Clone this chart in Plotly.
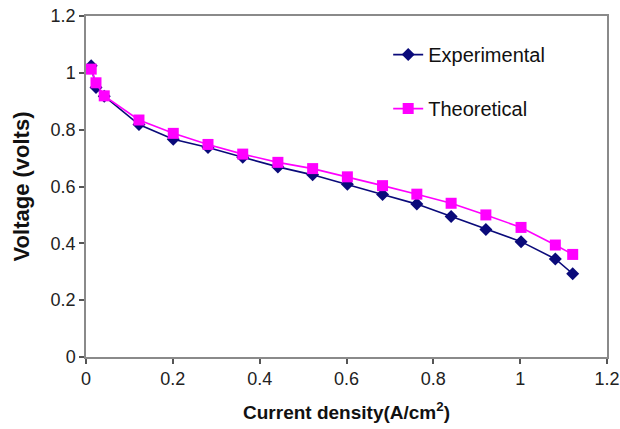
import plotly.graph_objects as go

current_density = [0.012, 0.023, 0.042, 0.122, 0.201, 0.281, 0.361, 0.442, 0.522, 0.602, 0.683, 0.762, 0.841, 0.921, 1.002, 1.081, 1.121]
voltage_experimental = [1.025, 0.948, 0.918, 0.818, 0.766, 0.737, 0.703, 0.669, 0.641, 0.608, 0.572, 0.538, 0.494, 0.449, 0.406, 0.345, 0.293]
voltage_theoretical = [1.013, 0.965, 0.919, 0.834, 0.787, 0.748, 0.714, 0.685, 0.663, 0.634, 0.603, 0.573, 0.541, 0.500, 0.456, 0.394, 0.361]

x_ticks = [0, 0.2, 0.4, 0.6, 0.8, 1, 1.2]
y_ticks = [0, 0.2, 0.4, 0.6, 0.8, 1, 1.2]

FONT = "Liberation Sans, Arial, sans-serif"

fig = go.Figure()
fig.add_trace(go.Scatter(
    x=current_density, y=voltage_experimental, mode="lines+markers", name="Experimental",
    line=dict(color="#0a0a7a", width=1.6),
    marker=dict(symbol="diamond", size=10, color="#0a0a7a"),
    legendgroup="a",
))
fig.add_trace(go.Scatter(
    x=current_density, y=voltage_theoretical, mode="lines+markers", name="Theoretical",
    line=dict(color="#ff00ff", width=1.6),
    marker=dict(symbol="square", size=11, color="#ff00ff"),
    legendgroup="b",
))

axis_common = dict(
    showgrid=False, zeroline=False, showline=True, linecolor="#8a8a8a", linewidth=1.5,
    mirror=True, ticks="outside", ticklen=5, tickwidth=1.5, tickcolor="#555555",
    tickfont=dict(family=FONT, size=18, color="#222222"),
    automargin=False,
)
fig.update_xaxes(range=[0, 1.2], tickvals=x_ticks, ticktext=[str(v) for v in x_ticks],
                 title=dict(text="Current density(A/cm<sup>2</sup>)",
                            font=dict(family=FONT, size=19, color="#111111", weight="bold"),
                            standoff=17),
                 **axis_common)
fig.update_yaxes(range=[0, 1.2], tickvals=y_ticks, ticktext=[str(v) for v in y_ticks],
                 title=dict(text="Voltage (volts)",
                            font=dict(family=FONT, size=22, color="#111111", weight="bold"),
                            standoff=15),
                 **axis_common)

fig.update_layout(
    width=620, height=429,
    margin=dict(l=86, r=13, t=16, b=72),
    paper_bgcolor="white", plot_bgcolor="white",
    font=dict(family=FONT),
    showlegend=True,
    legend=dict(x=0.58, y=0.944, xanchor="left", yanchor="top",
                font=dict(size=20, color="#111111"), tracegroupgap=25,
                bgcolor="rgba(0,0,0,0)"),
)

fig.write_html("out.html")
